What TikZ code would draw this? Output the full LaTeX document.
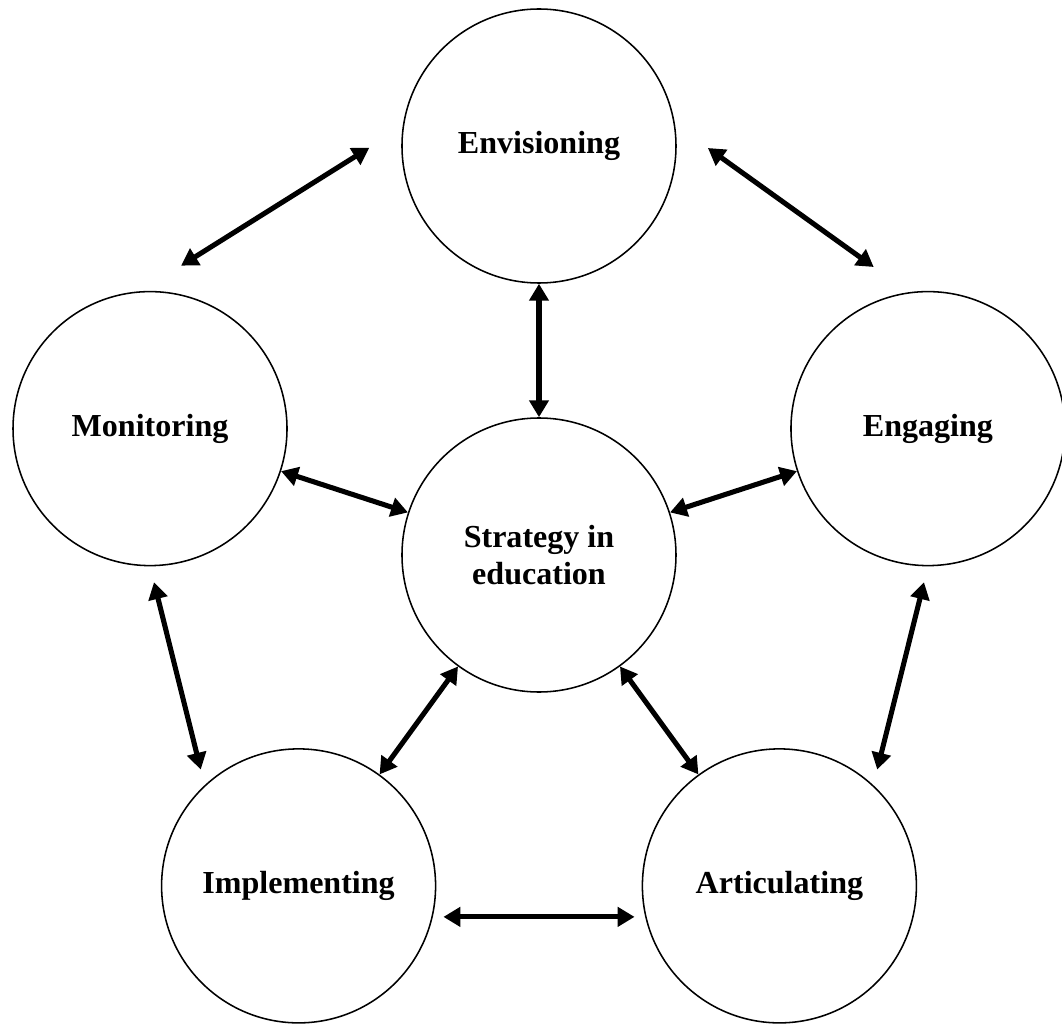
\documentclass[tikz,border=0pt]{standalone}
\usepackage{fontspec}
\setmainfont{Liberation Serif}
\usetikzlibrary{arrows.meta}
\tikzset{
    line/.style={
        line width=1.1pt
    },
    stage/.style={
        line,
        draw,
        circle,
        minimum size=6.85cm,
        inner sep=0pt,
        align=center,
        font=\fontsize{22.8}{26.3}\selectfont\bfseries
    },
    arrow/.style={
        line width=3.6pt,
        <->,
        > = {
            Triangle[length=12pt, width=13.5pt]
        }
    }
}

\begin{document}
\begin{tikzpicture}
    \useasboundingbox (-13.475, -11.75) rectangle (13.075, 13.875);
    % Centre:
    \node [stage] (ctr) at (0, 0) {Strategy in\\education};
    % Outer ring:
    \node [stage] (env) at (90:10.225) {Envisioning};
    \node [stage] (eng) at (18:10.225) {Engaging};
    \node [stage] (art) at (306:10.225) {Articulating};
    \node [stage] (imp) at (234:10.225) {Implementing};
    \node [stage] (mon) at (162:10.225) {Monitoring};
    % Spokes:
    \draw [arrow] (env) -- (ctr);
    \draw [arrow] (eng) -- (ctr);
    \draw [arrow] (art) -- (ctr);
    \draw [arrow] (imp) -- (ctr);
    \draw [arrow] (mon) -- (ctr);
    % Ring:
    \draw [arrow, shorten <=1.01cm, shorten >=1.08cm] (env.9) -- (eng.98);
    \draw [arrow, shorten <=0.41cm, shorten >=0.4cm] (eng.270) -- (art.47);
    \draw [arrow, shorten <=0.265cm, shorten >=0.265cm] (art.193) -- (imp.347);
    \draw [arrow, shorten <=0.4cm, shorten >=0.41cm] (imp.133) -- (mon.270);
    \draw [arrow, shorten <=1.2cm, shorten >=0.98cm] (mon.94) -- (env.172);
\end{tikzpicture}
\end{document}
